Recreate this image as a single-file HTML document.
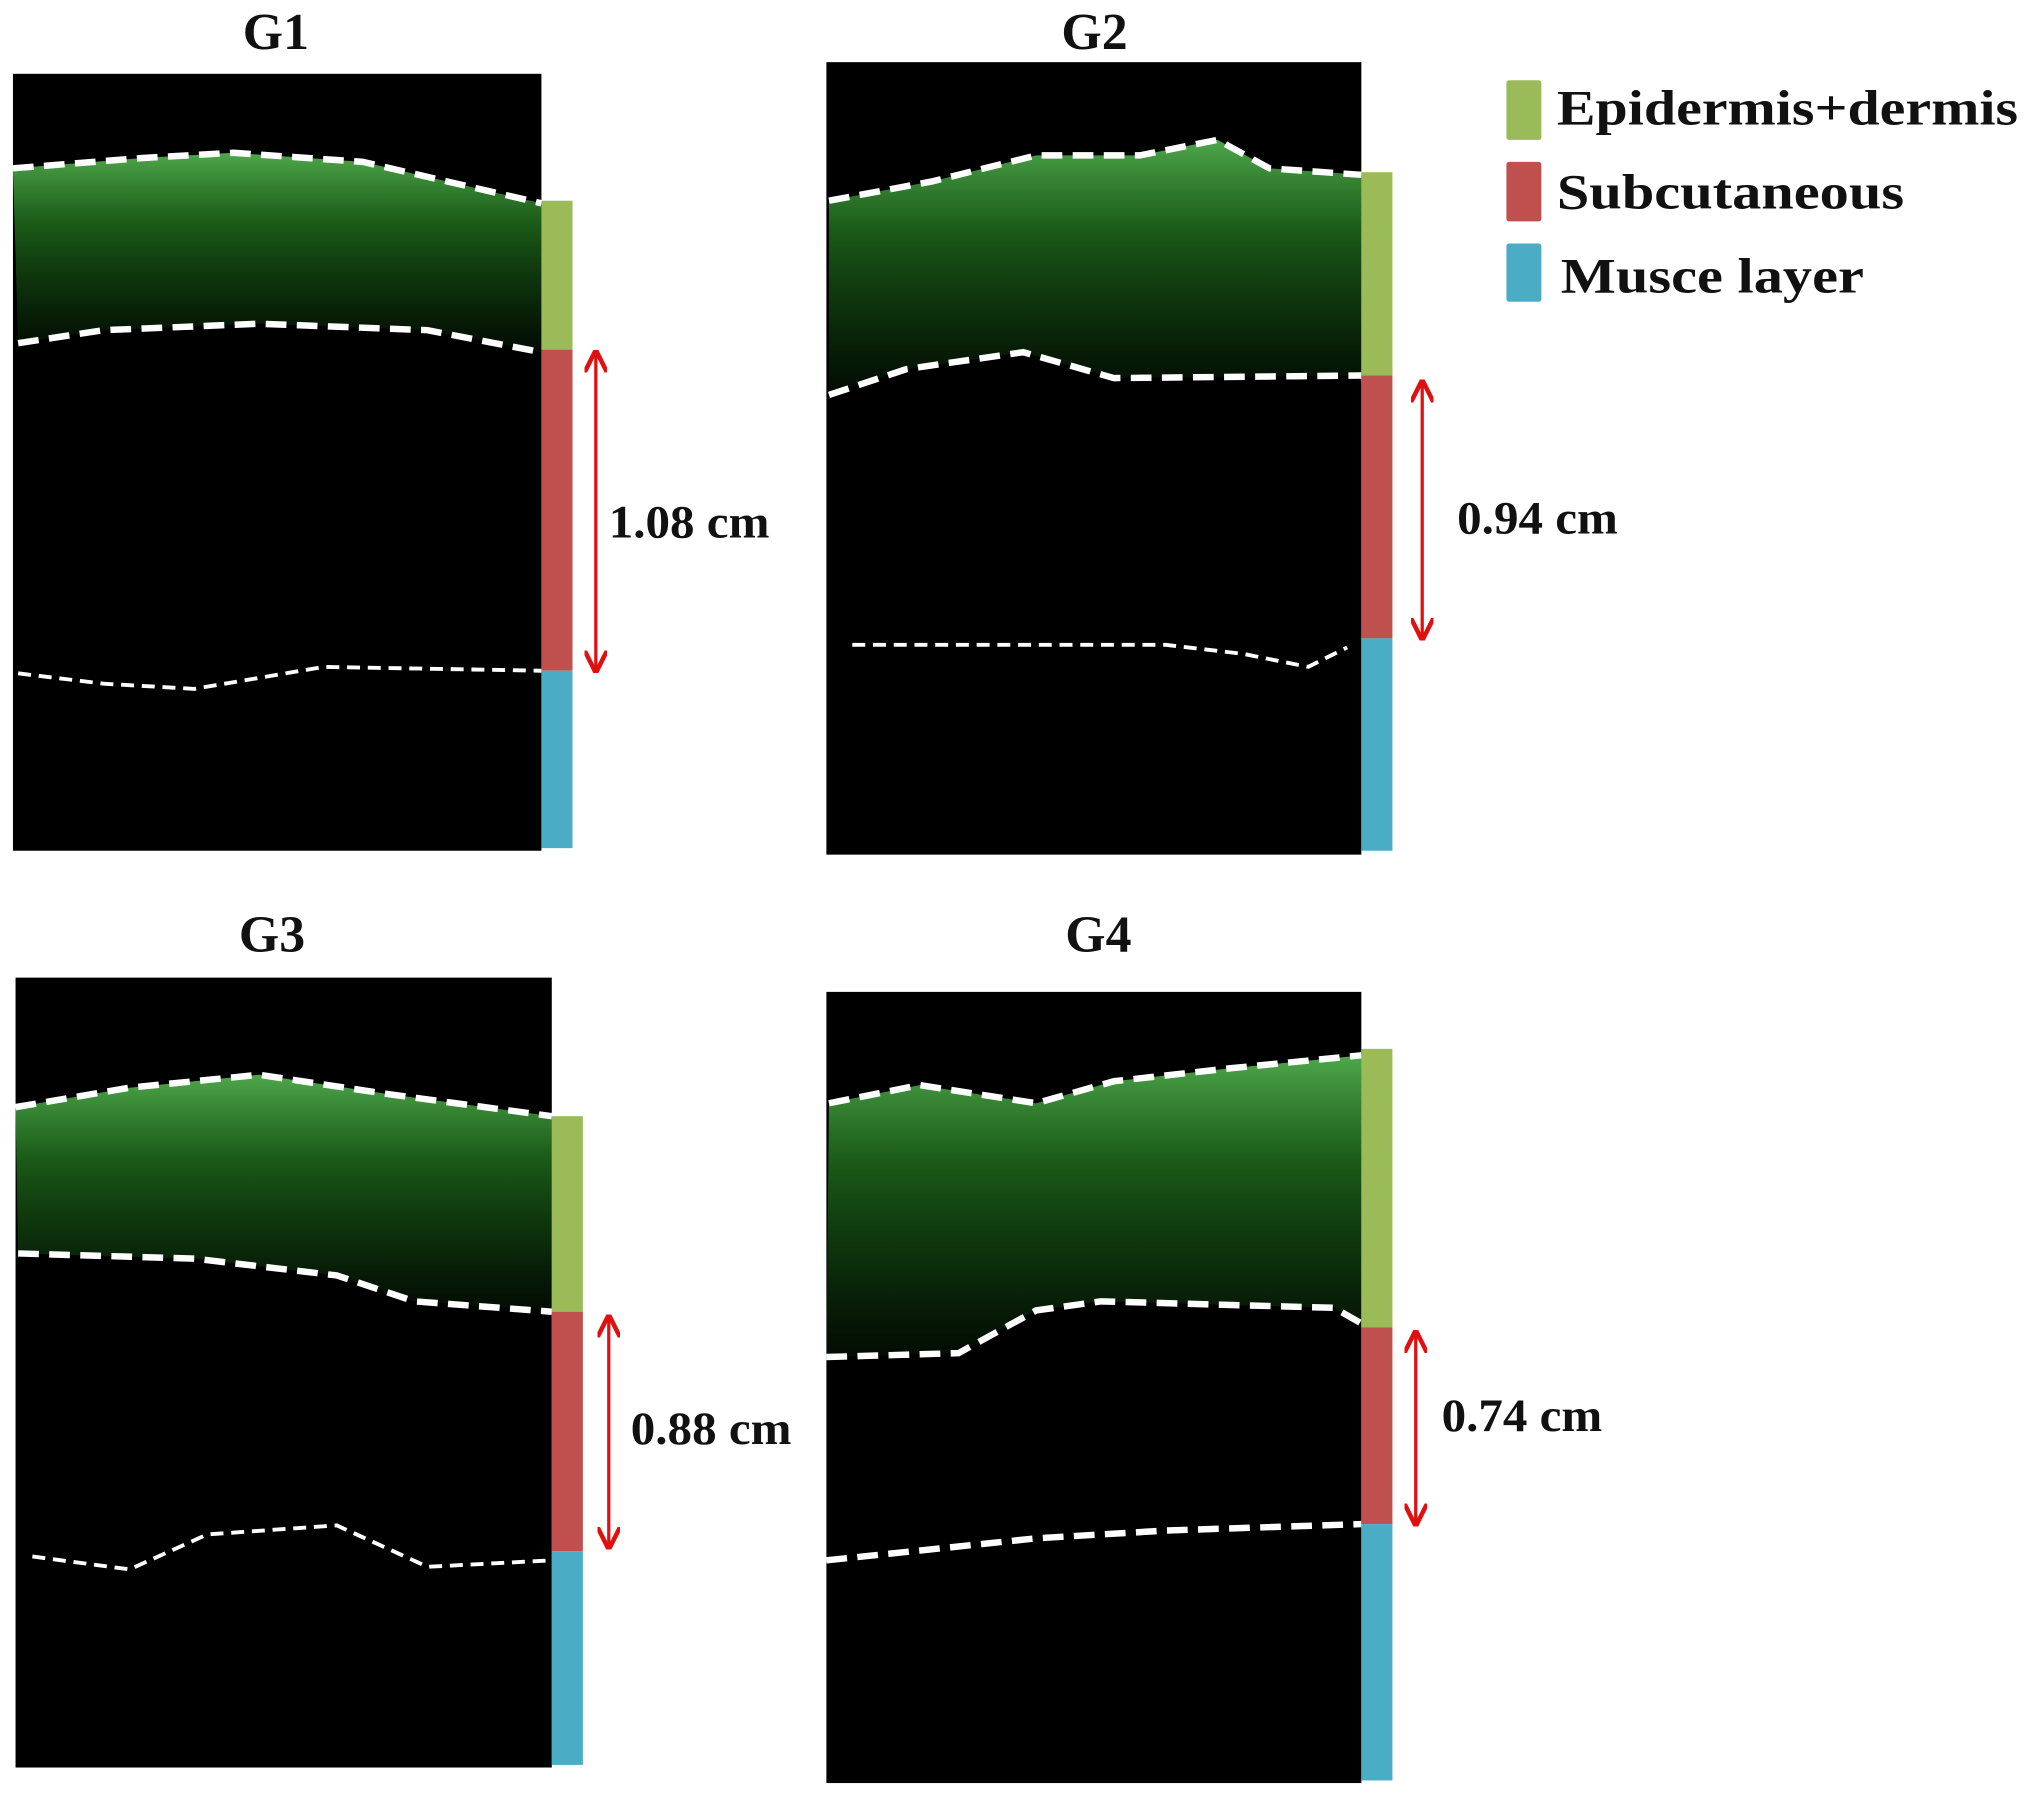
<!DOCTYPE html>
<html><head><meta charset="utf-8"><style>
html,body{margin:0;padding:0;background:#fff;}
svg{display:block;}
text{font-family:"Liberation Serif",serif;font-weight:bold;fill:#111;}
</style></head><body>
<svg id="fig" width="2031" height="1796" viewBox="0 0 1568 1387" preserveAspectRatio="none" xmlns="http://www.w3.org/2000/svg">
<defs>
<linearGradient id="skin" x1="0" y1="0" x2="0" y2="1">
<stop offset="0" stop-color="#5cc458" stop-opacity="0.85"/>
<stop offset="0.35" stop-color="#247a20" stop-opacity="0.75"/>
<stop offset="0.7" stop-color="#175a15" stop-opacity="0.5"/>
<stop offset="1" stop-color="#0a2a0a" stop-opacity="0.3"/>
</linearGradient>
<marker id="ah" viewBox="0 0 10 10" refX="9" refY="5" markerWidth="7" markerHeight="7" orient="auto-start-reverse"><path d="M0,0 L10,5 L0,10" fill="none" stroke="#e01010" stroke-width="2"/></marker>
</defs>
<g id="panels"></g>
<g>
<rect x="1163" y="62" width="27" height="46" fill="#9bbb59" rx="2"/>
<text x="1202" y="96" font-size="38" textLength="356" lengthAdjust="spacingAndGlyphs">Epidermis+dermis</text>
<rect x="1163" y="125" width="27" height="46" fill="#c0504d" rx="2"/>
<text x="1202" y="161" font-size="38" textLength="268" lengthAdjust="spacingAndGlyphs">Subcutaneous</text>
<rect x="1163" y="188" width="27" height="45" fill="#4bacc6" rx="2"/>
<text x="1205" y="226" font-size="38" textLength="234" lengthAdjust="spacingAndGlyphs">Musce layer</text>
</g>
</svg>
<script>
const groups = ["G1","G2","G3","G4"];
const thickness = [1.08, 0.94, 0.88, 0.74];
const NS="http://www.w3.org/2000/svg";
const P=[
 {t:[213,25],img:[10,57,408,600],bar:[418,155,270,518,655],arr:[460,272,518],lab:[470,403],
  top:[[10,130],[110,122],[180,118],[280,125],[418,157]],mid:[[14,265],[80,255],[200,250],[330,255],[418,272]],bot:[[14,520],[80,528],[150,532],[250,515],[418,518]]},
 {t:[845,25],img:[638,48,413,612],bar:[1051,133,290,493,657],arr:[1098,295,493],lab:[1125,400],
  top:[[640,155],[720,140],[800,120],[880,120],[940,108],[980,130],[1051,135]],mid:[[640,305],[700,285],[790,272],[860,292],[1051,290]],bot:[[658,498],[900,498],[960,505],[1010,515],[1040,500]]},
 {t:[210,722],img:[12,755,414,610],bar:[426,862,1013,1198,1363],arr:[470,1017,1195],lab:[487,1103],
  top:[[12,855],[100,840],[200,830],[300,845],[426,862]],mid:[[14,968],[150,972],[260,985],[320,1005],[426,1013]],bot:[[25,1202],[100,1212],[160,1185],[260,1178],[330,1210],[426,1205]]},
 {t:[848,722],img:[638,766,413,611],bar:[1051,810,1025,1177,1375],arr:[1093,1029,1177],lab:[1113,1093],
  top:[[640,852],[710,838],[800,852],[860,835],[950,825],[1051,815]],mid:[[638,1048],[740,1045],[800,1012],[850,1005],[1030,1010],[1051,1022]],bot:[[638,1205],[800,1188],[900,1182],[1051,1177]]}
];
const panels=document.getElementById('panels');
function mk(tag,attrs,parent){const e=document.createElementNS(NS,tag);for(const k in attrs)e.setAttribute(k,attrs[k]);parent.appendChild(e);return e;}
function pathOf(pts){return "M"+pts.map(p=>p.join(",")).join(" L");}
groups.forEach((g,i)=>{
 const p=P[i];
 const grp=mk('g',{},panels);
 
 
 const t=mk('text',{x:p.t[0],y:p.t[1]+13,'font-size':40,'text-anchor':'middle'},grp);
 t.textContent=g;
 
 
 const [ix,iy,iw,ih]=p.img;
 const im=mk('rect',{x:ix,y:iy,width:iw,height:ih,fill:'#000'},grp);
 
 
 const band=p.top.concat(p.mid.slice().reverse());
 const b=mk('path',{d:pathOf(band)+" Z",fill:'url(#skin)'},grp);
 
 
 [['top',p.top],['mid',p.mid],['bot',p.bot]].forEach(([n,pts])=>{
  const l=mk('path',{d:pathOf(pts),fill:'none',stroke:'#fff','stroke-width':n==='bot'&&i!==3?3:5,'stroke-dasharray':n==='bot'&&i!==3?'10,6':'16,8'},grp);
  
  
 });
 const [bx,y0,y1,y2,y3]=p.bar;
 const cols=['#9bbb59','#c0504d','#4bacc6'],ys=[[y0,y1],[y1,y2],[y2,y3]],nm=['epidermis','subcutaneous','muscle'];
 ys.forEach((yy,k)=>{
  const r=mk('rect',{x:bx,y:yy[0],width:24,height:yy[1]-yy[0],fill:cols[k]},grp);
  
  
 });
 const a=mk('line',{x1:p.arr[0],y1:p.arr[1],x2:p.arr[0],y2:p.arr[2],stroke:'#e01010','stroke-width':2.5,'marker-start':'url(#ah)','marker-end':'url(#ah)'},grp);
 
 
 const lt=mk('text',{x:p.lab[0],y:p.lab[1]+12,'font-size':36,textLength:124,lengthAdjust:'spacingAndGlyphs'},grp);
 lt.textContent=thickness[i].toFixed(2)+" cm";
 
 
});
</script>
</body></html>
